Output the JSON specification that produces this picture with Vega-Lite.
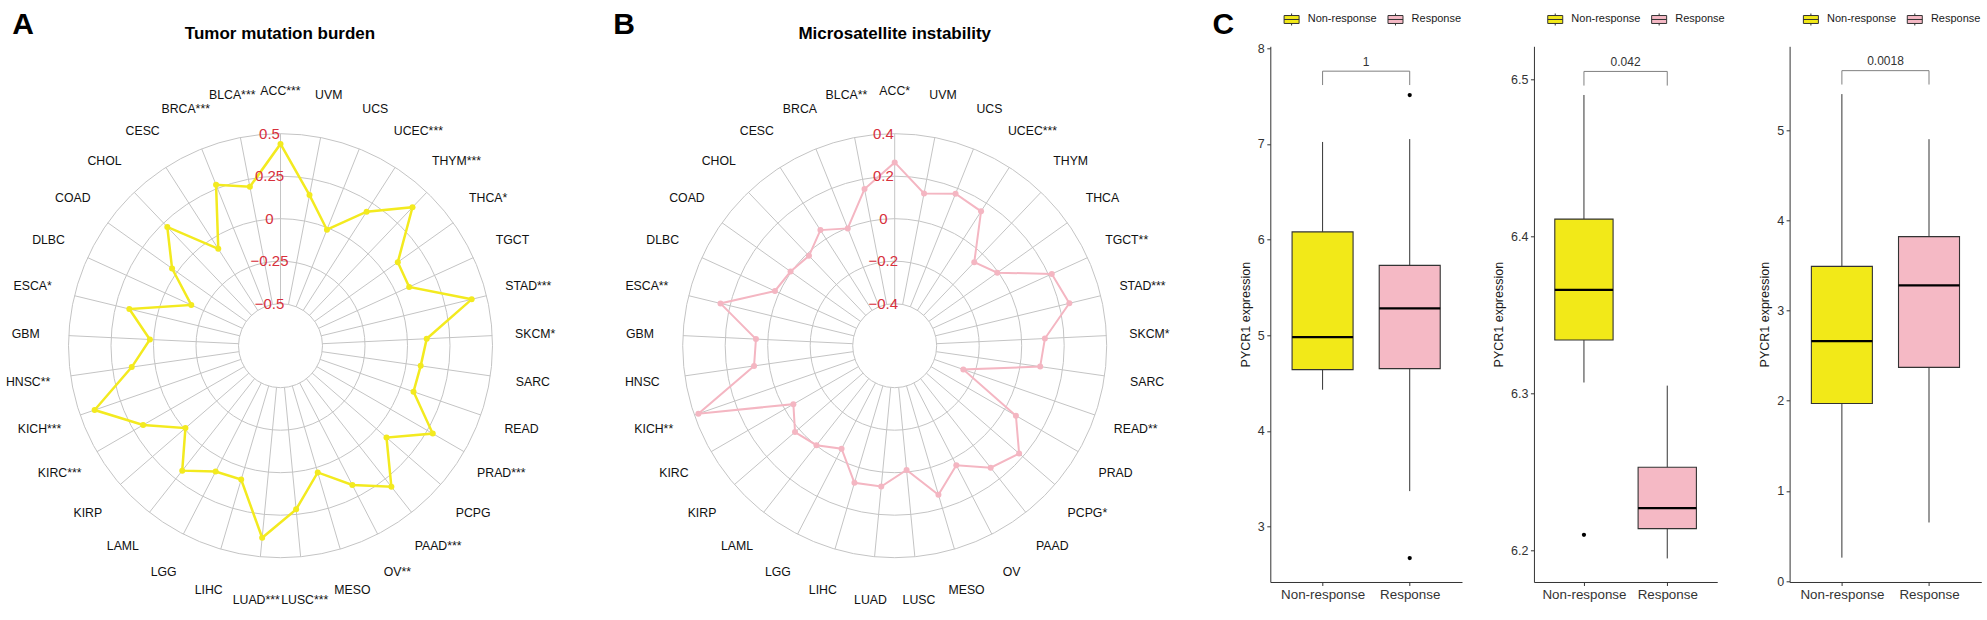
{
"$schema":"https://vega.github.io/schema/vega-lite/v6.json",
"autosize":{"type":"pad"},
"padding":{"left":0,"top":9.3,"right":0,"bottom":0},
"background":"white",
"config":{"font":"Liberation Sans","view":{"stroke":null},"axis":{"grid":false}},
"datasets":{
"tmb":[
{"c":"ACC","lab":"ACC***","v":0.44},{"c":"UVM","lab":"UVM","v":0.155},{"c":"UCS","lab":"UCS","v":-0.012},{"c":"UCEC","lab":"UCEC***","v":0.19},{"c":"THYM","lab":"THYM***","v":0.378},{"c":"THCA","lab":"THCA*","v":0.10},{"c":"TGCT","lab":"TGCT","v":0.085},{"c":"STAD","lab":"STAD***","v":0.41},{"c":"SKCM","lab":"SKCM*","v":0.114},{"c":"SARC","lab":"SARC","v":0.086},{"c":"READ","lab":"READ","v":0.081},{"c":"PRAD","lab":"PRAD***","v":0.287},{"c":"PCPG","lab":"PCPG","v":0.078},{"c":"PAAD","lab":"PAAD***","v":0.308},{"c":"OV","lab":"OV**","v":0.175},{"c":"MESO","lab":"MESO","v":0.03},{"c":"LUSC","lab":"LUSC***","v":0.22},{"c":"LUAD","lab":"LUAD***","v":0.388},{"c":"LIHC","lab":"LIHC","v":0.074},{"c":"LGG","lab":"LGG","v":0.086},{"c":"LAML","lab":"LAML","v":0.188},{"c":"KIRP","lab":"KIRP","v":-0.007},{"c":"KIRC","lab":"KIRC***","v":0.186},{"c":"KICH","lab":"KICH***","v":0.41},{"c":"HNSC","lab":"HNSC**","v":0.137},{"c":"GBM","lab":"GBM","v":0.022},{"c":"ESCA","lab":"ESCA*","v":0.168},{"c":"DLBC","lab":"DLBC","v":-0.17},{"c":"COAD","lab":"COAD","v":0.036},{"c":"CHOL","lab":"CHOL","v":0.218},{"c":"CESC","lab":"CESC","v":-0.07},{"c":"BRCA","lab":"BRCA***","v":0.273},{"c":"BLCA","lab":"BLCA***","v":0.205}
],
"msi":[
{"c":"ACC","lab":"ACC*","v":0.265},{"c":"UVM","lab":"UVM","v":0.132},{"c":"UCS","lab":"UCS","v":0.173},{"c":"UCEC","lab":"UCEC***","v":0.154},{"c":"THYM","lab":"THYM","v":-0.055},{"c":"THCA","lab":"THCA","v":-0.005},{"c":"TGCT","lab":"TGCT**","v":0.215},{"c":"STAD","lab":"STAD***","v":0.248},{"c":"SKCM","lab":"SKCM*","v":0.11},{"c":"SARC","lab":"SARC","v":0.094},{"c":"READ","lab":"READ**","v":-0.256},{"c":"PRAD","lab":"PRAD","v":0.061},{"c":"PCPG","lab":"PCPG*","v":0.177},{"c":"PAAD","lab":"PAAD","v":0.133},{"c":"OV","lab":"OV","v":0.035},{"c":"MESO","lab":"MESO","v":0.133},{"c":"LUSC","lab":"LUSC","v":-0.01},{"c":"LUAD","lab":"LUAD","v":0.068},{"c":"LIHC","lab":"LIHC","v":0.075},{"c":"LGG","lab":"LGG","v":-0.052},{"c":"LAML","lab":"LAML","v":-0.002},{"c":"KIRP","lab":"KIRP","v":0.023},{"c":"KIRC","lab":"KIRC","v":-0.047},{"c":"KICH","lab":"KICH**","v":0.38},{"c":"HNSC","lab":"HNSC","v":0.071},{"c":"GBM","lab":"GBM","v":0.056},{"c":"ESCA","lab":"ESCA**","v":0.246},{"c":"DLBC","lab":"DLBC","v":0.022},{"c":"COAD","lab":"COAD","v":0.004},{"c":"CHOL","lab":"CHOL","v":-0.013},{"c":"CESC","lab":"CESC","v":0.049},{"c":"BRCA","lab":"BRCA","v":-0.003},{"c":"BLCA","lab":"BLCA**","v":0.153}
],
"ringsA":[{"lv":-0.5,"t":"−0.5"},{"lv":-0.25,"t":"−0.25"},{"lv":0,"t":"0"},{"lv":0.25,"t":"0.25"},{"lv":0.5,"t":"0.5"}],
"ringsB":[{"lv":-0.4,"t":"−0.4"},{"lv":-0.2,"t":"−0.2"},{"lv":0,"t":"0"},{"lv":0.2,"t":"0.2"},{"lv":0.4,"t":"0.4"}],
"box1":[{"g":"Non-response","lower":4.43,"q1":4.64,"median":4.98,"q3":6.08,"upper":7.02},{"g":"Response","lower":3.37,"q1":4.65,"median":5.28,"q3":5.73,"upper":7.05}],
"out1":[{"g":"Response","v":7.51},{"g":"Response","v":2.67}],
"br1":[{"g":"Non-response","y":7.615,"o":1},{"g":"Non-response","y":7.76,"o":2},{"g":"Response","y":7.76,"o":3},{"g":"Response","y":7.615,"o":4}],
"pv1":[{"g":"Non-response","y":7.86,"p":"1"}],
"box2":[{"g":"Non-response","lower":6.307,"q1":6.334,"median":6.366,"q3":6.411,"upper":6.49},{"g":"Response","lower":6.195,"q1":6.214,"median":6.227,"q3":6.253,"upper":6.305}],
"out2":[{"g":"Non-response","v":6.21}],
"br2":[{"g":"Non-response","y":6.496,"o":1},{"g":"Non-response","y":6.505,"o":2},{"g":"Response","y":6.505,"o":3},{"g":"Response","y":6.496,"o":4}],
"pv2":[{"g":"Non-response","y":6.511,"p":"0.042"}],
"box3":[{"g":"Non-response","lower":0.26,"q1":1.97,"median":2.66,"q3":3.49,"upper":5.40},{"g":"Response","lower":0.65,"q1":2.37,"median":3.28,"q3":3.82,"upper":4.90}],
"br3":[{"g":"Non-response","y":5.506,"o":1},{"g":"Non-response","y":5.66,"o":2},{"g":"Response","y":5.66,"o":3},{"g":"Response","y":5.506,"o":4}],
"pv3":[{"g":"Non-response","y":5.763,"p":"0.0018"}]
},
"bounds":"flush",
"spacing":71.65,
"resolve":{"scale":{"x":"independent","y":"independent","color":"independent","size":"independent"},"legend":{"color":"independent"}},
"hconcat":[
{
"width":560,"height":560,
"layer":[
{"data":{"name":"ringsA"},
"transform":[{"calculate":"127+170*datum.lv","as":"r"},{"calculate":"4*datum.r*datum.r","as":"sz"}],
"mark":{"type":"point","shape":"circle","filled":false,"stroke":"#c4c4c4","strokeWidth":1,"opacity":1},
"encoding":{"x":{"datum":0,"type":"quantitative","scale":{"domain":[-280.5,279.5],"nice":false,"zero":false},"axis":null},
"y":{"datum":0,"type":"quantitative","scale":{"domain":[-260.6,299.4],"nice":false,"zero":false},"axis":null},
"size":{"field":"sz","type":"quantitative","scale":null,"legend":null}}},
{"data":{"name":"tmb"},
"transform":[{"window":[{"op":"row_number","as":"rn"}]},{"calculate":"2*PI*(datum.rn-1)/33","as":"th"},{"calculate":"42*sin(datum.th)","as":"sx"},{"calculate":"42*cos(datum.th)","as":"sy"},{"calculate":"212*sin(datum.th)","as":"ex"},{"calculate":"212*cos(datum.th)","as":"ey"}],
"mark":{"type":"rule","stroke":"#c4c4c4","strokeWidth":1},
"encoding":{"x":{"field":"sx","type":"quantitative","scale":{"domain":[-280.5,279.5],"nice":false,"zero":false},"axis":null},
"y":{"field":"sy","type":"quantitative","scale":{"domain":[-260.6,299.4],"nice":false,"zero":false},"axis":null},
"x2":{"field":"ex"},"y2":{"field":"ey"}}},
{"data":{"name":"tmb"},
"transform":[{"window":[{"op":"row_number","as":"rn"}]},{"calculate":"2*PI*(datum.rn-1)/33","as":"th"},{"calculate":"(127+170*datum.v)*sin(datum.th)","as":"px"},{"calculate":"(127+170*datum.v)*cos(datum.th)","as":"py"}],
"mark":{"type":"line","interpolate":"linear-closed","stroke":"#F3EA1F","strokeWidth":2.5},
"encoding":{"x":{"field":"px","type":"quantitative","scale":{"domain":[-280.5,279.5],"nice":false,"zero":false},"axis":null},
"y":{"field":"py","type":"quantitative","scale":{"domain":[-260.6,299.4],"nice":false,"zero":false},"axis":null},
"order":{"field":"rn","type":"quantitative"}}},
{"data":{"name":"tmb"},
"transform":[{"window":[{"op":"row_number","as":"rn"}]},{"calculate":"2*PI*(datum.rn-1)/33","as":"th"},{"calculate":"(127+170*datum.v)*sin(datum.th)","as":"px"},{"calculate":"(127+170*datum.v)*cos(datum.th)","as":"py"}],
"mark":{"type":"point","shape":"circle","filled":true,"fill":"#F3EA1F","size":36,"opacity":1,"strokeWidth":0},
"encoding":{"x":{"field":"px","type":"quantitative","scale":{"domain":[-280.5,279.5],"nice":false,"zero":false},"axis":null},
"y":{"field":"py","type":"quantitative","scale":{"domain":[-260.6,299.4],"nice":false,"zero":false},"axis":null}}},
{"data":{"name":"tmb"},
"transform":[{"window":[{"op":"row_number","as":"rn"}]},{"calculate":"2*PI*(datum.rn-1)/33","as":"th"},{"calculate":"255*sin(datum.th)","as":"lx"},{"calculate":"255*cos(datum.th)","as":"ly"}],
"mark":{"type":"text","fontSize":12.3,"color":"#111111","align":"center","baseline":"middle"},
"encoding":{"x":{"field":"lx","type":"quantitative","scale":{"domain":[-280.5,279.5],"nice":false,"zero":false},"axis":null},
"y":{"field":"ly","type":"quantitative","scale":{"domain":[-260.6,299.4],"nice":false,"zero":false},"axis":null},
"text":{"field":"lab"}}},
{"data":{"name":"ringsA"},
"transform":[{"calculate":"127+170*datum.lv","as":"r"}],
"mark":{"type":"text","dx":-11,"fontSize":15,"color":"#D7303C","align":"center","baseline":"middle"},
"encoding":{"x":{"datum":0,"type":"quantitative","scale":{"domain":[-280.5,279.5],"nice":false,"zero":false},"axis":null},
"y":{"field":"r","type":"quantitative","scale":{"domain":[-260.6,299.4],"nice":false,"zero":false},"axis":null},
"text":{"field":"t"}}},
{"data":{"values":[{"t":"Tumor mutation burden"}]},
"mark":{"type":"text","fontSize":17,"fontWeight":"bold","color":"#000000","align":"center","baseline":"alphabetic"},
"encoding":{"x":{"datum":-0.5,"type":"quantitative","scale":{"domain":[-280.5,279.5],"nice":false,"zero":false},"axis":null},
"y":{"datum":306.5,"type":"quantitative","scale":{"domain":[-260.6,299.4],"nice":false,"zero":false},"axis":null},
"text":{"field":"t"}}},
{"data":{"values":[{"t":"A"}]},
"mark":{"type":"text","fontSize":30,"fontWeight":"bold","color":"#000000","align":"center","baseline":"alphabetic"},
"encoding":{"x":{"datum":-257.5,"type":"quantitative","scale":{"domain":[-280.5,279.5],"nice":false,"zero":false},"axis":null},
"y":{"datum":312,"type":"quantitative","scale":{"domain":[-260.6,299.4],"nice":false,"zero":false},"axis":null},
"text":{"field":"t"}}}
]
},
{
"width":566.7,"height":560,
"layer":[
{"data":{"name":"ringsB"},
"transform":[{"calculate":"127+212.5*datum.lv","as":"r"},{"calculate":"4*datum.r*datum.r","as":"sz"}],
"mark":{"type":"point","shape":"circle","filled":false,"stroke":"#c4c4c4","strokeWidth":1,"opacity":1},
"encoding":{"x":{"datum":0,"type":"quantitative","scale":{"domain":[-263.05,303.65],"nice":false,"zero":false},"axis":null},
"y":{"datum":0,"type":"quantitative","scale":{"domain":[-260.6,299.4],"nice":false,"zero":false},"axis":null},
"size":{"field":"sz","type":"quantitative","scale":null,"legend":null}}},
{"data":{"name":"msi"},
"transform":[{"window":[{"op":"row_number","as":"rn"}]},{"calculate":"2*PI*(datum.rn-1)/33","as":"th"},{"calculate":"42*sin(datum.th)","as":"sx"},{"calculate":"42*cos(datum.th)","as":"sy"},{"calculate":"212*sin(datum.th)","as":"ex"},{"calculate":"212*cos(datum.th)","as":"ey"}],
"mark":{"type":"rule","stroke":"#c4c4c4","strokeWidth":1},
"encoding":{"x":{"field":"sx","type":"quantitative","scale":{"domain":[-263.05,303.65],"nice":false,"zero":false},"axis":null},
"y":{"field":"sy","type":"quantitative","scale":{"domain":[-260.6,299.4],"nice":false,"zero":false},"axis":null},
"x2":{"field":"ex"},"y2":{"field":"ey"}}},
{"data":{"name":"msi"},
"transform":[{"window":[{"op":"row_number","as":"rn"}]},{"calculate":"2*PI*(datum.rn-1)/33","as":"th"},{"calculate":"(127+212.5*datum.v)*sin(datum.th)","as":"px"},{"calculate":"(127+212.5*datum.v)*cos(datum.th)","as":"py"}],
"mark":{"type":"line","interpolate":"linear-closed","stroke":"#F4B6C2","strokeWidth":2},
"encoding":{"x":{"field":"px","type":"quantitative","scale":{"domain":[-263.05,303.65],"nice":false,"zero":false},"axis":null},
"y":{"field":"py","type":"quantitative","scale":{"domain":[-260.6,299.4],"nice":false,"zero":false},"axis":null},
"order":{"field":"rn","type":"quantitative"}}},
{"data":{"name":"msi"},
"transform":[{"window":[{"op":"row_number","as":"rn"}]},{"calculate":"2*PI*(datum.rn-1)/33","as":"th"},{"calculate":"(127+212.5*datum.v)*sin(datum.th)","as":"px"},{"calculate":"(127+212.5*datum.v)*cos(datum.th)","as":"py"}],
"mark":{"type":"point","shape":"circle","filled":true,"fill":"#F4B6C2","size":36,"opacity":1,"strokeWidth":0},
"encoding":{"x":{"field":"px","type":"quantitative","scale":{"domain":[-263.05,303.65],"nice":false,"zero":false},"axis":null},
"y":{"field":"py","type":"quantitative","scale":{"domain":[-260.6,299.4],"nice":false,"zero":false},"axis":null}}},
{"data":{"name":"msi"},
"transform":[{"window":[{"op":"row_number","as":"rn"}]},{"calculate":"2*PI*(datum.rn-1)/33","as":"th"},{"calculate":"255*sin(datum.th)","as":"lx"},{"calculate":"255*cos(datum.th)","as":"ly"}],
"mark":{"type":"text","fontSize":12.3,"color":"#111111","align":"center","baseline":"middle"},
"encoding":{"x":{"field":"lx","type":"quantitative","scale":{"domain":[-263.05,303.65],"nice":false,"zero":false},"axis":null},
"y":{"field":"ly","type":"quantitative","scale":{"domain":[-260.6,299.4],"nice":false,"zero":false},"axis":null},
"text":{"field":"lab"}}},
{"data":{"name":"ringsB"},
"transform":[{"calculate":"127+212.5*datum.lv","as":"r"}],
"mark":{"type":"text","dx":-11.4,"fontSize":15,"color":"#D7303C","align":"center","baseline":"middle"},
"encoding":{"x":{"datum":0,"type":"quantitative","scale":{"domain":[-263.05,303.65],"nice":false,"zero":false},"axis":null},
"y":{"field":"r","type":"quantitative","scale":{"domain":[-260.6,299.4],"nice":false,"zero":false},"axis":null},
"text":{"field":"t"}}},
{"data":{"values":[{"t":"Microsatellite instability"}]},
"mark":{"type":"text","fontSize":17,"fontWeight":"bold","color":"#000000","align":"center","baseline":"alphabetic"},
"encoding":{"x":{"datum":0,"type":"quantitative","scale":{"domain":[-263.05,303.65],"nice":false,"zero":false},"axis":null},
"y":{"datum":306.5,"type":"quantitative","scale":{"domain":[-260.6,299.4],"nice":false,"zero":false},"axis":null},
"text":{"field":"t"}}},
{"data":{"values":[{"t":"B","x":-270.7},{"t":"C","x":328.6}]},
"mark":{"type":"text","fontSize":30,"fontWeight":"bold","color":"#000000","align":"center","baseline":"alphabetic"},
"encoding":{"x":{"field":"x","type":"quantitative","scale":{"domain":[-263.05,303.65],"nice":false,"zero":false},"axis":null},
"y":{"datum":312,"type":"quantitative","scale":{"domain":[-260.6,299.4],"nice":false,"zero":false},"axis":null},
"text":{"field":"t"}}}
]
},
{
"width":191.7,"height":535.7,
"layer":[
{"data":{"name":"box1"},"mark":{"type":"rule","stroke":"#333333","strokeWidth":1},
"encoding":{"x":{"field":"g","type":"nominal","scale":{"type":"point","padding":0.6,"domain":["Non-response","Response"]},"axis":{"title":null,"labelAngle":0,"labelFontSize":13.4,"labelColor":"#333333","tickSize":3.5,"tickColor":"#333333","domainColor":"#333333","labelPadding":2}},
"y":{"field":"lower","type":"quantitative","scale":{"domain":[2.42,8.02],"nice":false,"zero":false},"axis":{"title":"PYCR1 expression","titleFontSize":12.5,"titleFontWeight":"normal","titleColor":"#1a1a1a","titlePadding":5.3,"values":[3,4,5,6,7,8],"labelFontSize":12.5,"labelColor":"#333333","tickSize":3.5,"tickColor":"#333333","domainColor":"#333333","labelPadding":2.5,"labelFlush":false,"labelOverlap":false,"grid":false}},
"y2":{"field":"q1"}}},
{"data":{"name":"box1"},"mark":{"type":"rule","stroke":"#333333","strokeWidth":1},
"encoding":{"x":{"field":"g","type":"nominal","scale":{"type":"point","padding":0.6,"domain":["Non-response","Response"]},"axis":{"title":null,"labelAngle":0,"labelFontSize":13.4,"labelColor":"#333333","tickSize":3.5,"tickColor":"#333333","domainColor":"#333333","labelPadding":2}},
"y":{"field":"q3","type":"quantitative","scale":{"domain":[2.42,8.02],"nice":false,"zero":false},"axis":{"title":"PYCR1 expression","titleFontSize":12.5,"titleFontWeight":"normal","titleColor":"#1a1a1a","titlePadding":5.3,"values":[3,4,5,6,7,8],"labelFontSize":12.5,"labelColor":"#333333","tickSize":3.5,"tickColor":"#333333","domainColor":"#333333","labelPadding":2.5,"labelFlush":false,"labelOverlap":false,"grid":false}},
"y2":{"field":"upper"}}},
{"data":{"name":"box1"},"mark":{"type":"bar","width":61,"stroke":"#333333","strokeWidth":1.1},
"encoding":{"x":{"field":"g","type":"nominal","scale":{"type":"point","padding":0.6,"domain":["Non-response","Response"]},"axis":{"title":null,"labelAngle":0,"labelFontSize":13.4,"labelColor":"#333333","tickSize":3.5,"tickColor":"#333333","domainColor":"#333333","labelPadding":2}},
"y":{"field":"q1","type":"quantitative","scale":{"domain":[2.42,8.02],"nice":false,"zero":false},"axis":{"title":"PYCR1 expression","titleFontSize":12.5,"titleFontWeight":"normal","titleColor":"#1a1a1a","titlePadding":5.3,"values":[3,4,5,6,7,8],"labelFontSize":12.5,"labelColor":"#333333","tickSize":3.5,"tickColor":"#333333","domainColor":"#333333","labelPadding":2.5,"labelFlush":false,"labelOverlap":false,"grid":false}},
"y2":{"field":"q3"},
"color":{"field":"g","type":"nominal","scale":{"domain":["Non-response","Response"],"range":["#F2E918","#F5B9C5"]},"legend":{"orient":"none","legendX":13.3,"legendY":-34.8,"direction":"horizontal","title":null,"symbolType":"M-1,-0.53H1V0.53H-1Z M-1,0H1 M0,-0.53V-0.8 M0,0.53V0.8","symbolSize":225,"symbolStrokeColor":"#333333","symbolStrokeWidth":1,"labelFontSize":11,"labelColor":"#1a1a1a","labelOffset":8.1,"columnPadding":7.9,"padding":0}}}},
{"data":{"name":"box1"},"mark":{"type":"tick","color":"#000000","thickness":2.2,"size":61,"opacity":1},
"encoding":{"x":{"field":"g","type":"nominal","scale":{"type":"point","padding":0.6,"domain":["Non-response","Response"]},"axis":{"title":null,"labelAngle":0,"labelFontSize":13.4,"labelColor":"#333333","tickSize":3.5,"tickColor":"#333333","domainColor":"#333333","labelPadding":2}},
"y":{"field":"median","type":"quantitative","scale":{"domain":[2.42,8.02],"nice":false,"zero":false},"axis":{"title":"PYCR1 expression","titleFontSize":12.5,"titleFontWeight":"normal","titleColor":"#1a1a1a","titlePadding":5.3,"values":[3,4,5,6,7,8],"labelFontSize":12.5,"labelColor":"#333333","tickSize":3.5,"tickColor":"#333333","domainColor":"#333333","labelPadding":2.5,"labelFlush":false,"labelOverlap":false,"grid":false}}}},
{"data":{"name":"out1"},"mark":{"type":"point","shape":"circle","filled":true,"color":"#000000","size":18,"opacity":1},
"encoding":{"x":{"field":"g","type":"nominal","scale":{"type":"point","padding":0.6,"domain":["Non-response","Response"]},"axis":{"title":null,"labelAngle":0,"labelFontSize":13.4,"labelColor":"#333333","tickSize":3.5,"tickColor":"#333333","domainColor":"#333333","labelPadding":2}},
"y":{"field":"v","type":"quantitative","scale":{"domain":[2.42,8.02],"nice":false,"zero":false},"axis":{"title":"PYCR1 expression","titleFontSize":12.5,"titleFontWeight":"normal","titleColor":"#1a1a1a","titlePadding":5.3,"values":[3,4,5,6,7,8],"labelFontSize":12.5,"labelColor":"#333333","tickSize":3.5,"tickColor":"#333333","domainColor":"#333333","labelPadding":2.5,"labelFlush":false,"labelOverlap":false,"grid":false}}}},
{"data":{"name":"br1"},"mark":{"type":"line","stroke":"#7f7f7f","strokeWidth":1},
"encoding":{"x":{"field":"g","type":"nominal","scale":{"type":"point","padding":0.6,"domain":["Non-response","Response"]},"axis":{"title":null,"labelAngle":0,"labelFontSize":13.4,"labelColor":"#333333","tickSize":3.5,"tickColor":"#333333","domainColor":"#333333","labelPadding":2}},
"y":{"field":"y","type":"quantitative","scale":{"domain":[2.42,8.02],"nice":false,"zero":false},"axis":{"title":"PYCR1 expression","titleFontSize":12.5,"titleFontWeight":"normal","titleColor":"#1a1a1a","titlePadding":5.3,"values":[3,4,5,6,7,8],"labelFontSize":12.5,"labelColor":"#333333","tickSize":3.5,"tickColor":"#333333","domainColor":"#333333","labelPadding":2.5,"labelFlush":false,"labelOverlap":false,"grid":false}},
"order":{"field":"o","type":"quantitative"}}},
{"data":{"name":"pv1"},"mark":{"type":"text","dx":43.6,"fontSize":12,"color":"#333333","align":"center","baseline":"middle"},
"encoding":{"x":{"field":"g","type":"nominal","scale":{"type":"point","padding":0.6,"domain":["Non-response","Response"]},"axis":{"title":null,"labelAngle":0,"labelFontSize":13.4,"labelColor":"#333333","tickSize":3.5,"tickColor":"#333333","domainColor":"#333333","labelPadding":2}},
"y":{"field":"y","type":"quantitative","scale":{"domain":[2.42,8.02],"nice":false,"zero":false},"axis":{"title":"PYCR1 expression","titleFontSize":12.5,"titleFontWeight":"normal","titleColor":"#1a1a1a","titlePadding":5.3,"values":[3,4,5,6,7,8],"labelFontSize":12.5,"labelColor":"#333333","tickSize":3.5,"tickColor":"#333333","domainColor":"#333333","labelPadding":2.5,"labelFlush":false,"labelOverlap":false,"grid":false}},
"text":{"field":"p"}}}
]
},
{
"width":183.3,"height":535.7,
"layer":[
{"data":{"name":"box2"},"mark":{"type":"rule","stroke":"#333333","strokeWidth":1},
"encoding":{"x":{"field":"g","type":"nominal","scale":{"type":"point","padding":0.6,"domain":["Non-response","Response"]},"axis":{"title":null,"labelAngle":0,"labelFontSize":13.4,"labelColor":"#333333","tickSize":3.5,"tickColor":"#333333","domainColor":"#333333","labelPadding":2}},
"y":{"field":"lower","type":"quantitative","scale":{"domain":[6.18,6.521],"nice":false,"zero":false},"axis":{"title":"PYCR1 expression","titleFontSize":12.5,"titleFontWeight":"normal","titleColor":"#1a1a1a","titlePadding":5.3,"values":[6.2,6.3,6.4,6.5],"format":".1f","labelFontSize":12.5,"labelColor":"#333333","tickSize":3.5,"tickColor":"#333333","domainColor":"#333333","labelPadding":2.5,"labelFlush":false,"labelOverlap":false,"grid":false}},
"y2":{"field":"q1"}}},
{"data":{"name":"box2"},"mark":{"type":"rule","stroke":"#333333","strokeWidth":1},
"encoding":{"x":{"field":"g","type":"nominal","scale":{"type":"point","padding":0.6,"domain":["Non-response","Response"]},"axis":{"title":null,"labelAngle":0,"labelFontSize":13.4,"labelColor":"#333333","tickSize":3.5,"tickColor":"#333333","domainColor":"#333333","labelPadding":2}},
"y":{"field":"q3","type":"quantitative","scale":{"domain":[6.18,6.521],"nice":false,"zero":false},"axis":{"title":"PYCR1 expression","titleFontSize":12.5,"titleFontWeight":"normal","titleColor":"#1a1a1a","titlePadding":5.3,"values":[6.2,6.3,6.4,6.5],"format":".1f","labelFontSize":12.5,"labelColor":"#333333","tickSize":3.5,"tickColor":"#333333","domainColor":"#333333","labelPadding":2.5,"labelFlush":false,"labelOverlap":false,"grid":false}},
"y2":{"field":"upper"}}},
{"data":{"name":"box2"},"mark":{"type":"bar","width":58.3,"stroke":"#333333","strokeWidth":1.1},
"encoding":{"x":{"field":"g","type":"nominal","scale":{"type":"point","padding":0.6,"domain":["Non-response","Response"]},"axis":{"title":null,"labelAngle":0,"labelFontSize":13.4,"labelColor":"#333333","tickSize":3.5,"tickColor":"#333333","domainColor":"#333333","labelPadding":2}},
"y":{"field":"q1","type":"quantitative","scale":{"domain":[6.18,6.521],"nice":false,"zero":false},"axis":{"title":"PYCR1 expression","titleFontSize":12.5,"titleFontWeight":"normal","titleColor":"#1a1a1a","titlePadding":5.3,"values":[6.2,6.3,6.4,6.5],"format":".1f","labelFontSize":12.5,"labelColor":"#333333","tickSize":3.5,"tickColor":"#333333","domainColor":"#333333","labelPadding":2.5,"labelFlush":false,"labelOverlap":false,"grid":false}},
"y2":{"field":"q3"},
"color":{"field":"g","type":"nominal","scale":{"domain":["Non-response","Response"],"range":["#F2E918","#F5B9C5"]},"legend":{"orient":"none","legendX":13.3,"legendY":-34.8,"direction":"horizontal","title":null,"symbolType":"M-1,-0.53H1V0.53H-1Z M-1,0H1 M0,-0.53V-0.8 M0,0.53V0.8","symbolSize":225,"symbolStrokeColor":"#333333","symbolStrokeWidth":1,"labelFontSize":11,"labelColor":"#1a1a1a","labelOffset":8.1,"columnPadding":7.9,"padding":0}}}},
{"data":{"name":"box2"},"mark":{"type":"tick","color":"#000000","thickness":2.2,"size":58.3,"opacity":1},
"encoding":{"x":{"field":"g","type":"nominal","scale":{"type":"point","padding":0.6,"domain":["Non-response","Response"]},"axis":{"title":null,"labelAngle":0,"labelFontSize":13.4,"labelColor":"#333333","tickSize":3.5,"tickColor":"#333333","domainColor":"#333333","labelPadding":2}},
"y":{"field":"median","type":"quantitative","scale":{"domain":[6.18,6.521],"nice":false,"zero":false},"axis":{"title":"PYCR1 expression","titleFontSize":12.5,"titleFontWeight":"normal","titleColor":"#1a1a1a","titlePadding":5.3,"values":[6.2,6.3,6.4,6.5],"format":".1f","labelFontSize":12.5,"labelColor":"#333333","tickSize":3.5,"tickColor":"#333333","domainColor":"#333333","labelPadding":2.5,"labelFlush":false,"labelOverlap":false,"grid":false}}}},
{"data":{"name":"out2"},"mark":{"type":"point","shape":"circle","filled":true,"color":"#000000","size":18,"opacity":1},
"encoding":{"x":{"field":"g","type":"nominal","scale":{"type":"point","padding":0.6,"domain":["Non-response","Response"]},"axis":{"title":null,"labelAngle":0,"labelFontSize":13.4,"labelColor":"#333333","tickSize":3.5,"tickColor":"#333333","domainColor":"#333333","labelPadding":2}},
"y":{"field":"v","type":"quantitative","scale":{"domain":[6.18,6.521],"nice":false,"zero":false},"axis":{"title":"PYCR1 expression","titleFontSize":12.5,"titleFontWeight":"normal","titleColor":"#1a1a1a","titlePadding":5.3,"values":[6.2,6.3,6.4,6.5],"format":".1f","labelFontSize":12.5,"labelColor":"#333333","tickSize":3.5,"tickColor":"#333333","domainColor":"#333333","labelPadding":2.5,"labelFlush":false,"labelOverlap":false,"grid":false}}}},
{"data":{"name":"br2"},"mark":{"type":"line","stroke":"#7f7f7f","strokeWidth":1},
"encoding":{"x":{"field":"g","type":"nominal","scale":{"type":"point","padding":0.6,"domain":["Non-response","Response"]},"axis":{"title":null,"labelAngle":0,"labelFontSize":13.4,"labelColor":"#333333","tickSize":3.5,"tickColor":"#333333","domainColor":"#333333","labelPadding":2}},
"y":{"field":"y","type":"quantitative","scale":{"domain":[6.18,6.521],"nice":false,"zero":false},"axis":{"title":"PYCR1 expression","titleFontSize":12.5,"titleFontWeight":"normal","titleColor":"#1a1a1a","titlePadding":5.3,"values":[6.2,6.3,6.4,6.5],"format":".1f","labelFontSize":12.5,"labelColor":"#333333","tickSize":3.5,"tickColor":"#333333","domainColor":"#333333","labelPadding":2.5,"labelFlush":false,"labelOverlap":false,"grid":false}},
"order":{"field":"o","type":"quantitative"}}},
{"data":{"name":"pv2"},"mark":{"type":"text","dx":41.65,"fontSize":12,"color":"#333333","align":"center","baseline":"middle"},
"encoding":{"x":{"field":"g","type":"nominal","scale":{"type":"point","padding":0.6,"domain":["Non-response","Response"]},"axis":{"title":null,"labelAngle":0,"labelFontSize":13.4,"labelColor":"#333333","tickSize":3.5,"tickColor":"#333333","domainColor":"#333333","labelPadding":2}},
"y":{"field":"y","type":"quantitative","scale":{"domain":[6.18,6.521],"nice":false,"zero":false},"axis":{"title":"PYCR1 expression","titleFontSize":12.5,"titleFontWeight":"normal","titleColor":"#1a1a1a","titlePadding":5.3,"values":[6.2,6.3,6.4,6.5],"format":".1f","labelFontSize":12.5,"labelColor":"#333333","tickSize":3.5,"tickColor":"#333333","domainColor":"#333333","labelPadding":2.5,"labelFlush":false,"labelOverlap":false,"grid":false}},
"text":{"field":"p"}}}
]
},
{
"width":191.7,"height":535.7,
"layer":[
{"data":{"name":"box3"},"mark":{"type":"rule","stroke":"#333333","strokeWidth":1},
"encoding":{"x":{"field":"g","type":"nominal","scale":{"type":"point","padding":0.6,"domain":["Non-response","Response"]},"axis":{"title":null,"labelAngle":0,"labelFontSize":13.4,"labelColor":"#333333","tickSize":3.5,"tickColor":"#333333","domainColor":"#333333","labelPadding":2}},
"y":{"field":"lower","type":"quantitative","scale":{"domain":[-0.01,5.93],"nice":false,"zero":false},"axis":{"title":"PYCR1 expression","titleFontSize":12.5,"titleFontWeight":"normal","titleColor":"#1a1a1a","titlePadding":5.3,"values":[0,1,2,3,4,5],"labelFontSize":12.5,"labelColor":"#333333","tickSize":3.5,"tickColor":"#333333","domainColor":"#333333","labelPadding":2.5,"labelFlush":false,"labelOverlap":false,"grid":false}},
"y2":{"field":"q1"}}},
{"data":{"name":"box3"},"mark":{"type":"rule","stroke":"#333333","strokeWidth":1},
"encoding":{"x":{"field":"g","type":"nominal","scale":{"type":"point","padding":0.6,"domain":["Non-response","Response"]},"axis":{"title":null,"labelAngle":0,"labelFontSize":13.4,"labelColor":"#333333","tickSize":3.5,"tickColor":"#333333","domainColor":"#333333","labelPadding":2}},
"y":{"field":"q3","type":"quantitative","scale":{"domain":[-0.01,5.93],"nice":false,"zero":false},"axis":{"title":"PYCR1 expression","titleFontSize":12.5,"titleFontWeight":"normal","titleColor":"#1a1a1a","titlePadding":5.3,"values":[0,1,2,3,4,5],"labelFontSize":12.5,"labelColor":"#333333","tickSize":3.5,"tickColor":"#333333","domainColor":"#333333","labelPadding":2.5,"labelFlush":false,"labelOverlap":false,"grid":false}},
"y2":{"field":"upper"}}},
{"data":{"name":"box3"},"mark":{"type":"bar","width":61,"stroke":"#333333","strokeWidth":1.1},
"encoding":{"x":{"field":"g","type":"nominal","scale":{"type":"point","padding":0.6,"domain":["Non-response","Response"]},"axis":{"title":null,"labelAngle":0,"labelFontSize":13.4,"labelColor":"#333333","tickSize":3.5,"tickColor":"#333333","domainColor":"#333333","labelPadding":2}},
"y":{"field":"q1","type":"quantitative","scale":{"domain":[-0.01,5.93],"nice":false,"zero":false},"axis":{"title":"PYCR1 expression","titleFontSize":12.5,"titleFontWeight":"normal","titleColor":"#1a1a1a","titlePadding":5.3,"values":[0,1,2,3,4,5],"labelFontSize":12.5,"labelColor":"#333333","tickSize":3.5,"tickColor":"#333333","domainColor":"#333333","labelPadding":2.5,"labelFlush":false,"labelOverlap":false,"grid":false}},
"y2":{"field":"q3"},
"color":{"field":"g","type":"nominal","scale":{"domain":["Non-response","Response"],"range":["#F2E918","#F5B9C5"]},"legend":{"orient":"none","legendX":13.3,"legendY":-34.8,"direction":"horizontal","title":null,"symbolType":"M-1,-0.53H1V0.53H-1Z M-1,0H1 M0,-0.53V-0.8 M0,0.53V0.8","symbolSize":225,"symbolStrokeColor":"#333333","symbolStrokeWidth":1,"labelFontSize":11,"labelColor":"#1a1a1a","labelOffset":8.1,"columnPadding":7.9,"padding":0}}}},
{"data":{"name":"box3"},"mark":{"type":"tick","color":"#000000","thickness":2.2,"size":61,"opacity":1},
"encoding":{"x":{"field":"g","type":"nominal","scale":{"type":"point","padding":0.6,"domain":["Non-response","Response"]},"axis":{"title":null,"labelAngle":0,"labelFontSize":13.4,"labelColor":"#333333","tickSize":3.5,"tickColor":"#333333","domainColor":"#333333","labelPadding":2}},
"y":{"field":"median","type":"quantitative","scale":{"domain":[-0.01,5.93],"nice":false,"zero":false},"axis":{"title":"PYCR1 expression","titleFontSize":12.5,"titleFontWeight":"normal","titleColor":"#1a1a1a","titlePadding":5.3,"values":[0,1,2,3,4,5],"labelFontSize":12.5,"labelColor":"#333333","tickSize":3.5,"tickColor":"#333333","domainColor":"#333333","labelPadding":2.5,"labelFlush":false,"labelOverlap":false,"grid":false}}}},
{"data":{"name":"br3"},"mark":{"type":"line","stroke":"#7f7f7f","strokeWidth":1},
"encoding":{"x":{"field":"g","type":"nominal","scale":{"type":"point","padding":0.6,"domain":["Non-response","Response"]},"axis":{"title":null,"labelAngle":0,"labelFontSize":13.4,"labelColor":"#333333","tickSize":3.5,"tickColor":"#333333","domainColor":"#333333","labelPadding":2}},
"y":{"field":"y","type":"quantitative","scale":{"domain":[-0.01,5.93],"nice":false,"zero":false},"axis":{"title":"PYCR1 expression","titleFontSize":12.5,"titleFontWeight":"normal","titleColor":"#1a1a1a","titlePadding":5.3,"values":[0,1,2,3,4,5],"labelFontSize":12.5,"labelColor":"#333333","tickSize":3.5,"tickColor":"#333333","domainColor":"#333333","labelPadding":2.5,"labelFlush":false,"labelOverlap":false,"grid":false}},
"order":{"field":"o","type":"quantitative"}}},
{"data":{"name":"pv3"},"mark":{"type":"text","dx":43.6,"fontSize":12,"color":"#333333","align":"center","baseline":"middle"},
"encoding":{"x":{"field":"g","type":"nominal","scale":{"type":"point","padding":0.6,"domain":["Non-response","Response"]},"axis":{"title":null,"labelAngle":0,"labelFontSize":13.4,"labelColor":"#333333","tickSize":3.5,"tickColor":"#333333","domainColor":"#333333","labelPadding":2}},
"y":{"field":"y","type":"quantitative","scale":{"domain":[-0.01,5.93],"nice":false,"zero":false},"axis":{"title":"PYCR1 expression","titleFontSize":12.5,"titleFontWeight":"normal","titleColor":"#1a1a1a","titlePadding":5.3,"values":[0,1,2,3,4,5],"labelFontSize":12.5,"labelColor":"#333333","tickSize":3.5,"tickColor":"#333333","domainColor":"#333333","labelPadding":2.5,"labelFlush":false,"labelOverlap":false,"grid":false}},
"text":{"field":"p"}}}
]
}
]
}
